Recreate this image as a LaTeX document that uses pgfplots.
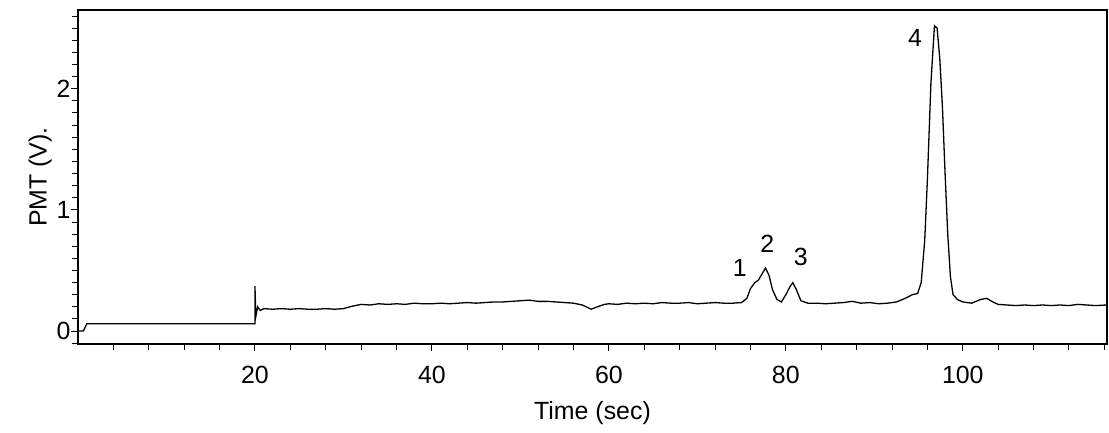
\documentclass[border=0pt]{standalone}
\usepackage{pgfplots}
\pgfplotsset{compat=1.18}
\usepackage{fontspec}
\setmainfont{Liberation Sans}
\begin{document}
\begin{tikzpicture}
\begin{axis}[
  scale only axis, width=1029bp, height=334bp,
  xmin=0, xmax=116.3, ymin=-0.107, ymax=2.65,
  xtick={20,40,...,100}, minor xtick={4,8,...,116},
  ytick={0,1,2}, minor ytick={-0.1,0,...,2.6},
  tick pos=left, tick align=outside,
  major tick length=7bp, minor tick length=6bp,
  every tick/.style={black, line width=1pt},
  axis line style={line width=1.1pt},
  tick label style={font=\fontsize{25}{28}\selectfont},
  label style={font=\fontsize{25}{28}\selectfont},
  xticklabel style={yshift=-12bp},
  yticklabel style={xshift=3bp},
  /pgf/number format/assume math mode=true,
  xlabel={Time (sec)}, ylabel={PMT (V).},
  xlabel style={yshift=-10bp}, ylabel style={yshift=-2bp},
]
\addplot[black, line width=1.3pt] coordinates {
(0,0) (0.6,0) (1,0.06) (5,0.06) (10,0.06) (15,0.06) (19.9,0.06) (20,0.06) (20,0.37) (20.1,0.12) (20.3,0.2) (20.6,0.17)
(21,0.185) (22,0.18) (23,0.185) (24,0.18) (25,0.185) (26,0.18) (27,0.18) (28,0.185) (29,0.18) (30,0.185)
(31,0.205) (32,0.22) (33,0.215) (34,0.225) (35,0.22) (36,0.225) (37,0.22) (38,0.23) (39,0.225) (40,0.225)
(41,0.23) (42,0.225) (43,0.23) (44,0.235) (45,0.23) (46,0.235) (47,0.24) (48,0.24) (49,0.245) (50,0.25)
(51,0.255) (52,0.245) (53,0.245) (54,0.24) (55,0.235) (56,0.23) (57,0.215) (58,0.18) (58.7,0.2) (59.5,0.22)
(60,0.225) (61,0.22) (62,0.23) (63,0.225) (64,0.23) (65,0.225) (66,0.235) (67,0.23) (68,0.23) (69,0.235)
(70,0.225) (71,0.23) (72,0.235) (73,0.23) (74,0.23) (75,0.235) (75.6,0.27) (76,0.35) (76.5,0.4) (76.9,0.42)
(77.3,0.47) (77.7,0.52) (78.1,0.46) (78.5,0.34) (79,0.26) (79.5,0.24) (80,0.3) (80.5,0.37) (80.8,0.4) (81.2,0.34)
(81.7,0.25) (82.5,0.23) (83.5,0.23) (84.5,0.225) (85.5,0.23) (86.5,0.235) (87.5,0.245) (88.5,0.23) (89.5,0.235) (90.5,0.225)
(91.5,0.23) (92.5,0.24) (93.5,0.27) (94.3,0.3) (94.9,0.31) (95.3,0.4) (95.7,0.75) (96,1.25) (96.4,2.05) (96.8,2.52)
(97.1,2.5) (97.4,2.25) (97.7,1.85) (98,1.3) (98.3,0.8) (98.6,0.45) (98.9,0.3) (99.4,0.26) (100,0.24) (101,0.23)
(102,0.26) (102.7,0.27) (103.4,0.24) (104,0.22) (105,0.215) (106,0.21) (107,0.215) (108,0.21) (109,0.215) (110,0.21)
(111,0.215) (112,0.21) (113,0.22) (114,0.215) (115,0.21) (116.3,0.215)
};
\node[font=\fontsize{25}{28}\selectfont] at (axis cs:74.8,0.52) {1};
\node[font=\fontsize{25}{28}\selectfont] at (axis cs:77.9,0.72) {2};
\node[font=\fontsize{25}{28}\selectfont] at (axis cs:81.7,0.61) {3};
\node[font=\fontsize{25}{28}\selectfont] at (axis cs:94.6,2.42) {4};
\coordinate (sw) at (rel axis cs:0,0);
\coordinate (ne) at (rel axis cs:1,1);
\end{axis}
\pgfresetboundingbox
\path ([xshift=-78bp,yshift=-89bp]sw) rectangle ([xshift=2bp,yshift=10bp]ne);
\end{tikzpicture}
\end{document}
